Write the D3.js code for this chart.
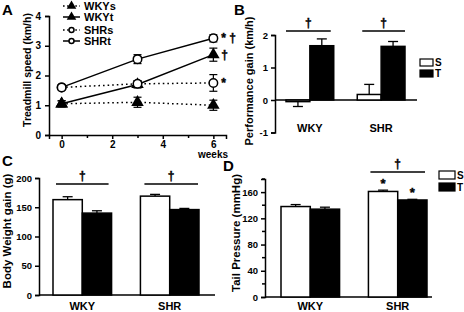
<!DOCTYPE html>
<html>
<head>
<meta charset="utf-8">
<script src="https://cdn.jsdelivr.net/npm/d3@7"></script>
<style>
  body { margin: 0; background: #fff; }
  svg { display: block; font-family: "Liberation Sans", Arial, sans-serif; font-weight: bold; }
  text { font-weight: bold; }
</style>
</head>
<body>
<svg id="fig" width="464" height="312"></svg>
<script>
// ---- data: panel A (treadmill speed, km/h) ----
const weeks = [0, 3, 6];
const wkysMean = [1.05, 1.1, 1.0];
const wkysErr = [0.1, 0.17, 0.17];
const wkytMean = [1.05, 1.7, 2.7];
const wkytErr = [0.1, 0.12, 0.22];
const shrsMean = [1.6, 1.72, 1.75];
const shrsErr = [0.05, 0.1, 0.28];
const shrtMean = [1.6, 2.55, 3.25];
const shrtErr = [0.05, 0.15, 0.12];

// ---- data: bar panels ----
const groups = ["WKY", "SHR"];
const conds = ["S", "T"];
const gainMean = [[-0.05, 1.67], [0.17, 1.65]];
const gainErr = [[0.15, 0.21], [0.31, 0.15]];
const weightMean = [[163, 140], [169, 146]];
const weightErr = [[5, 4], [3, 2]];
const pressureMean = [[138, 134], [161, 148]];
const pressureErr = [[3, 3], [2, 1]];

const svg = d3.select("#fig");
const LW = 1.5;

function styleAxis(g, fs) {
  g.select(".domain").attr("stroke-width", LW);
  g.selectAll(".tick line").attr("stroke-width", LW);
  g.selectAll(".tick text").attr("font-size", fs).attr("font-weight", "bold")
    .attr("font-family", "'Liberation Sans', Arial, sans-serif");
}

function panelLetter(t, x, y) {
  svg.append("text").attr("x", x).attr("y", y).attr("font-size", 15).text(t);
}

function yTitle(t, x, y, fs) {
  svg.append("text")
    .attr("transform", `translate(${x},${y}) rotate(-90)`)
    .attr("text-anchor", "middle")
    .attr("font-size", fs)
    .attr("font-weight", "bold")
    .text(t);
}

// daggers / stars drawn a little heavier, like the original
function sigText(x, y, t, fs, anchor) {
  svg.append("text").attr("x", x).attr("y", y)
    .attr("text-anchor", anchor || "start")
    .attr("font-size", fs)
    .attr("stroke", "#000").attr("stroke-width", 0.4)
    .text(t);
}

// ================= Panel A =================
const xA = d3.scaleLinear().domain([-0.5, 6.5]).range([49, 226]);
const yA = d3.scaleLinear().domain([0, 4]).range([135, 16]);

svg.append("g").attr("transform", "translate(49,0)")
  .call(d3.axisLeft(yA).ticks(4).tickSizeOuter(0).tickSize(4).tickPadding(4))
  .call(g => styleAxis(g, 10));

svg.append("g").attr("transform", "translate(0,135)")
  .call(d3.axisBottom(xA).tickValues([0, 1, 2, 3, 4, 5, 6]).tickSizeOuter(0).tickSize(4).tickPadding(2)
    .tickFormat(d => d % 2 === 0 ? d : ""))
  .call(g => styleAxis(g, 10))
  .call(g => g.selectAll(".tick").filter(d => d % 2 === 1).select("line").attr("y2", 3));

svg.append("text").attr("x", 213).attr("y", 158).attr("text-anchor", "middle")
  .attr("font-size", 10).text("weeks");

const seriesA = [
  { name: "WKYs", mean: wkysMean, err: wkysErr, dotted: true, marker: "tri" },
  { name: "WKYt", mean: wkytMean, err: wkytErr, dotted: false, marker: "tri" },
  { name: "SHRs", mean: shrsMean, err: shrsErr, dotted: true, marker: "circ" },
  { name: "SHRt", mean: shrtMean, err: shrtErr, dotted: false, marker: "circ" }
];

const lineA = d3.line().x((d, i) => xA(weeks[i])).y(d => yA(d));
const gA = svg.append("g");

seriesA.forEach(s => {
  gA.append("path").datum(s.mean)
    .attr("d", lineA)
    .attr("fill", "none").attr("stroke", "#000").attr("stroke-width", LW)
    .attr("stroke-dasharray", s.dotted ? "1.6,3" : null);
});

seriesA.forEach(s => {
  s.mean.forEach((m, i) => {
    const x = xA(weeks[i]);
    const e = s.err[i];
    gA.append("line").attr("x1", x).attr("x2", x).attr("y1", yA(m - e)).attr("y2", yA(m + e))
      .attr("stroke", "#000").attr("stroke-width", 1.2);
    [m - e, m + e].forEach(v => {
      gA.append("line").attr("x1", x - 4).attr("x2", x + 4).attr("y1", yA(v)).attr("y2", yA(v))
        .attr("stroke", "#000").attr("stroke-width", 1.2);
    });
  });
});

function drawMarker(g, type, x, y, size) {
  if (type === "tri") {
    g.append("path")
      .attr("d", d3.symbol(d3.symbolTriangle, size * 8)())
      .attr("transform", `translate(${x},${y})`)
      .attr("fill", "#000");
  } else {
    g.append("circle").attr("cx", x).attr("cy", y).attr("r", size / 2)
      .attr("fill", "#fff").attr("stroke", "#000").attr("stroke-width", 1.5);
  }
}

seriesA.forEach(s => {
  s.mean.forEach((m, i) => drawMarker(gA, s.marker, xA(weeks[i]), yA(m), 8.5));
});

// significance marks at week 6
const markA = [
  { v: shrtMean[2], t: "* †" },
  { v: wkytMean[2], t: "†" },
  { v: shrsMean[2], t: "*" }
];
markA.forEach(m => sigText(xA(6) + 8, yA(m.v) + 4, m.t, 12));

// legend A
const legY = [6, 17, 30, 41];
seriesA.forEach((s, i) => {
  const y = legY[i];
  svg.append("line").attr("x1", 63).attr("x2", 80).attr("y1", y).attr("y2", y)
    .attr("stroke", "#000").attr("stroke-width", LW)
    .attr("stroke-dasharray", s.dotted ? "1.6,2.5" : null);
  drawMarker(svg, s.marker, 71.5, y, 5);
  svg.append("text").attr("x", 84).attr("y", y + 4).attr("font-size", 11).text(s.name);
});

panelLetter("A", 2, 15);
yTitle("Treadmill speed (km/h)", 31, 70, 10.5);

// ================= bar panel helper =================
function barPanel(o) {
  const y = d3.scaleLinear().domain(o.yDomain).range(o.yRange);
  const xg = d3.scaleBand().domain(groups).range(o.barRange).paddingInner(o.padIn).paddingOuter(0);
  const xc = d3.scaleBand().domain(conds).range([0, xg.bandwidth()]);

  const ax = d3.axisLeft(y).tickValues(o.ticks).tickSizeOuter(0).tickSize(4).tickPadding(3)
    .tickFormat(d => String(d));
  svg.append("g").attr("transform", `translate(${o.axisX},0)`)
    .call(ax).call(g => styleAxis(g, 9.5));

  if (o.minor) {
    svg.append("g").selectAll("line").data(o.minor).join("line")
      .attr("x1", o.axisX - 3).attr("x2", o.axisX).attr("y1", d => y(d)).attr("y2", d => y(d))
      .attr("stroke", "#000").attr("stroke-width", LW);
  }

  // baseline x axis
  svg.append("line").attr("x1", o.axisX).attr("x2", o.xEnd).attr("y1", y(0)).attr("y2", y(0))
    .attr("stroke", "#000").attr("stroke-width", LW);

  const g = svg.append("g");
  groups.forEach((grp, gi) => {
    conds.forEach((c, ci) => {
      const m = o.mean[gi][ci];
      const e = o.err[gi][ci];
      const x0 = xg(grp) + xc(c);
      const w = xc.bandwidth();
      const tip = m + (m >= 0 ? e : -e);
      const cx = x0 + w / 2;
      g.append("line").attr("x1", cx).attr("x2", cx).attr("y1", y(m)).attr("y2", y(tip))
        .attr("stroke", "#000").attr("stroke-width", 1.3);
      g.append("line").attr("x1", cx - 5).attr("x2", cx + 5).attr("y1", y(tip)).attr("y2", y(tip))
        .attr("stroke", "#000").attr("stroke-width", 1.3);
      g.append("rect")
        .attr("x", x0).attr("width", w)
        .attr("y", y(Math.max(0, m))).attr("height", Math.abs(y(m) - y(0)))
        .attr("fill", c === "S" ? "#fff" : "#000")
        .attr("stroke", "#000").attr("stroke-width", LW);
    });
    svg.append("text").attr("x", xg(grp) + xg.bandwidth() / 2).attr("y", o.labelY)
      .attr("text-anchor", "middle").attr("font-size", 11).text(grp);
  });

  (o.brackets || []).forEach(b => {
    const x1 = xg(b.group) + (b.inset || 0);
    const x2 = xg(b.group) + xg.bandwidth() + (b.extra || 0);
    svg.append("line").attr("x1", x1).attr("x2", x2).attr("y1", b.y).attr("y2", b.y)
      .attr("stroke", "#000").attr("stroke-width", LW);
    sigText((x1 + x2) / 2, b.y - 4, "†", 12, "middle");
  });

  (o.stars || []).forEach(s => {
    const gi = groups.indexOf(s.group);
    const ci = conds.indexOf(s.cond);
    const cx = xg(s.group) + xc(s.cond) + xc.bandwidth() / 2;
    const top = o.mean[gi][ci] + o.err[gi][ci];
    sigText(cx, y(top) - 2, "*", 13, "middle");
  });

  if (o.legend) {
    conds.forEach((c, i) => {
      const L = o.legend;
      svg.append("rect").attr("x", L.x).attr("y", L.y[i]).attr("width", L.w).attr("height", L.h)
        .attr("fill", c === "S" ? "#fff" : "#000").attr("stroke", "#000").attr("stroke-width", 1.2);
      svg.append("text").attr("x", L.x + L.w + 2).attr("y", L.y[i] + L.h / 2 + 3.5)
        .attr("font-size", 10).text(c);
    });
  }
}

// ================= Panel B =================
barPanel({
  yDomain: [-1, 2], yRange: [132.5, 35],
  ticks: [-1, 0, 1, 2],
  axisX: 275, xEnd: 417,
  barRange: [286, 405], padIn: 0.33,
  mean: gainMean, err: gainErr,
  labelY: 132,
  brackets: [{ group: "WKY", y: 31, extra: -3 }, { group: "SHR", y: 31, inset: 5 }],
  legend: { x: 420, y: [59, 70], w: 13, h: 7 }
});
panelLetter("B", 234, 15);
yTitle("Performance gain (km/h)", 253, 81, 11);

// ================= Panel C =================
barPanel({
  yDomain: [0, 200], yRange: [295, 178],
  ticks: [0, 50, 100, 150, 200],
  axisX: 39, xEnd: 215,
  barRange: [53, 199], padIn: 0.33,
  mean: weightMean, err: weightErr,
  labelY: 310,
  brackets: [{ group: "WKY", y: 184, inset: 3, extra: -3 }, { group: "SHR", y: 184, inset: 4, extra: -1 }]
});
panelLetter("C", 2, 166);
yTitle("Body Weight gain (g)", 11, 231, 11.5);

// ================= Panel D =================
barPanel({
  yDomain: [0, 180], yRange: [297, 179],
  ticks: [0, 40, 80, 120, 160],
  minor: [20, 60, 100, 140, 180],
  axisX: 265, xEnd: 432,
  barRange: [281, 427], padIn: 0.33,
  mean: pressureMean, err: pressureErr,
  labelY: 310,
  brackets: [{ group: "SHR", y: 172, inset: 2, extra: -2 }],
  stars: [{ group: "SHR", cond: "S" }, { group: "SHR", cond: "T" }],
  legend: { x: 439, y: [171, 183], w: 16, h: 8 }
});
panelLetter("D", 223, 171);
yTitle("Tail Pressure (mmHg)", 240, 233, 11.5);
</script>
</body>
</html>
